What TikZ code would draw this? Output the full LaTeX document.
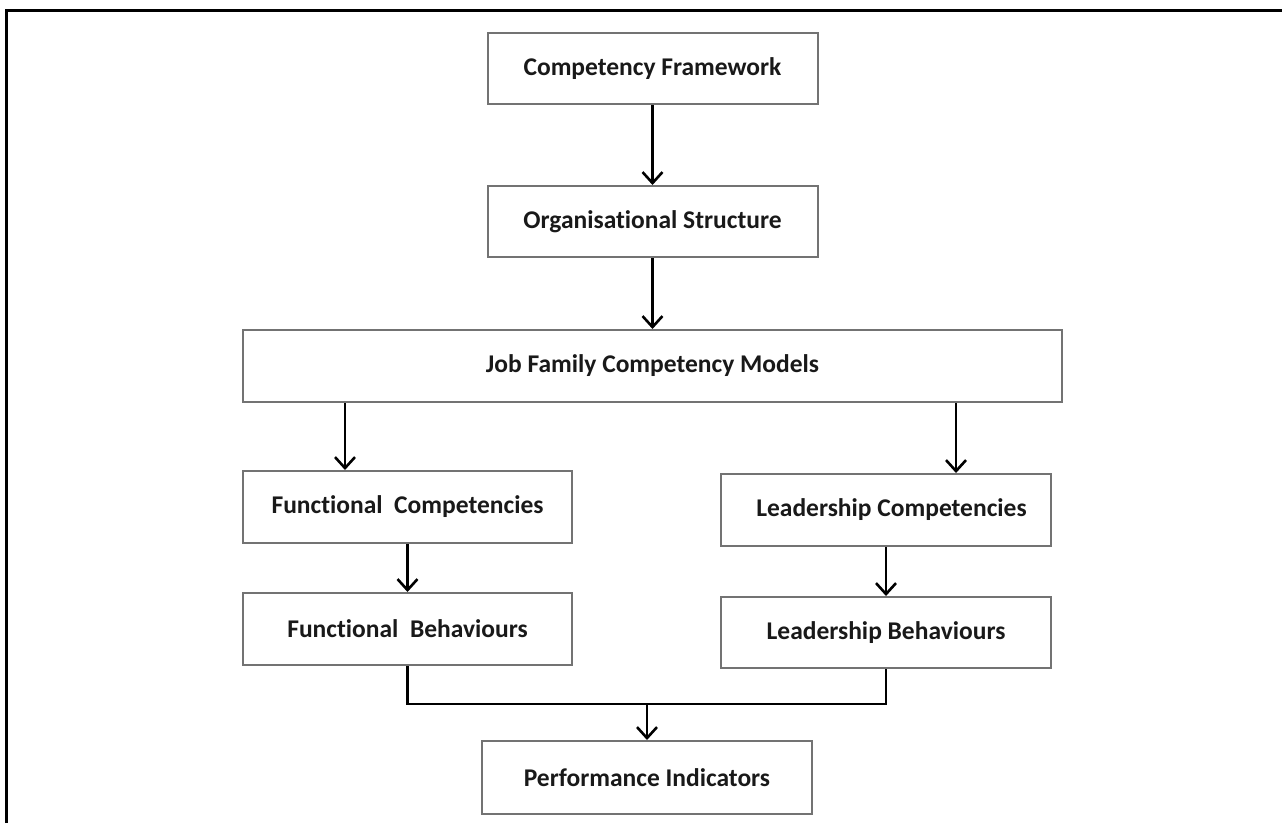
\documentclass[tikz,border=0pt]{standalone}
\usepackage{fontspec}
\setmainfont{Carlito}[Ligatures=NoCommon]
\usetikzlibrary{arrows.meta}
\begin{document}
\begin{tikzpicture}[x=1pt,y=-1pt,
  box/.style={draw=black!55, line width=2pt, fill=white, rectangle,
    inner sep=0pt, font=\fontsize{25.5}{29}\selectfont\bfseries, text=black!90},
  arr/.style={line width=2.8pt, -{Straight Barb[length=11pt,width=20pt,line width=2.6pt]}},
  link/.style={line width=2.8pt}]
\useasboundingbox (0,0) rectangle (1282,823);
\fill[white] (0,0) rectangle (1282,823);
% frame edges
\draw[line width=3pt] (6,823) -- (6,10) -- (1282,10);

% boxes
\node[box, minimum width=330pt, minimum height=71pt] (cf) at (652.5,68.5) {Competency Framework};
\node[box, minimum width=330pt, minimum height=71pt] (os) at (652.5,221.5) {Organisational Structure};
\node[box, minimum width=819pt, minimum height=72pt] (jf) at (652.5,366) {Job Family Competency Models};
\node[box, minimum width=329pt, minimum height=72pt] (fc) at (407.5,507) {Functional\ \ Competencies};
\node[box, minimum width=329pt, minimum height=72pt] (fb) at (407.5,629) {Functional\ \ Behaviours};
\node[box, minimum width=330pt, minimum height=72pt] (lc) at (886,510) {\hspace{11pt}Leadership Competencies};
\node[box, minimum width=330pt, minimum height=71pt] (lb) at (886,632.5) {Leadership Behaviours\hspace{20pt}};
\node[box, minimum width=330pt, minimum height=73pt] (pi) at (647,777.5) {Performance Indicators\hspace{12pt}};

% branch positions
\coordinate (la) at (345,0);
\coordinate (ra) at (956,0);
\coordinate (j) at (647,704);

% connectors
\draw[arr] (cf.south) -- (os.north);
\draw[arr] (os.south) -- (jf.north);
\draw[arr] (jf.south -| la) -- (fc.north -| la);
\draw[arr] (jf.south -| ra) -- (lc.north -| ra);
\draw[arr] (fc.south) -- (fb.north);
\draw[arr] (lc.south) -- (lb.north);
\draw[link] (fb.south) |- (j) -| (lb.south);
\draw[arr] (j) -- (pi.north);
\end{tikzpicture}
\end{document}
